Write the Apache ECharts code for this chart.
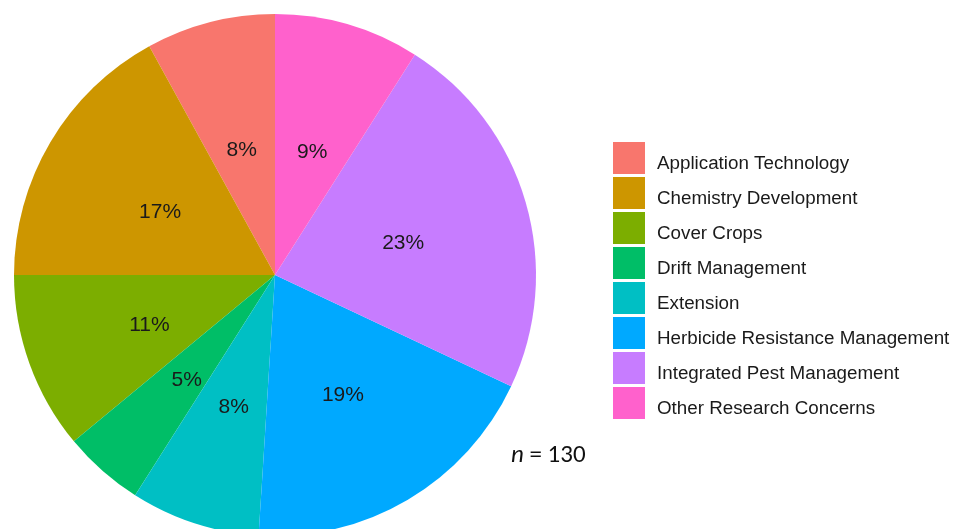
<!DOCTYPE html>
<html lang="en">
<head>
    <meta charset="UTF-8">
    <title>Research topics pie</title>
    <script src="https://cdn.jsdelivr.net/npm/echarts@6/dist/echarts.min.js"></script>
    <style>
        * { margin: 0; padding: 0; }
        body { background: #fff; }
        #paint { width: 954px; height: 529px; }
    </style>
</head>
<body>
    <div id="paint"></div>
    <script>
        // categories and shares (percent of n = 130)
        var categories = ['Application Technology', 'Chemistry Development', 'Cover Crops',
            'Drift Management', 'Extension', 'Herbicide Resistance Management',
            'Integrated Pest Management', 'Other Research Concerns'];
        var shares = [8, 17, 11, 5, 8, 19, 23, 9];
        var colors = ['#F8766D', '#CD9600', '#7CAE00', '#00BE67', '#00BFC4', '#00A9FF', '#C77CFF', '#FF61CC'];
        var sampleSize = 130;

        var data = [];
        for (var i = 0; i < categories.length; i++) {
            data.push({ name: categories[i], value: shares[i], itemStyle: { color: colors[i] } });
        }

        var mychart = echarts.init(document.getElementById('paint'));
        mychart.setOption({
            animation: false,
            legend: {
                orient: 'vertical',
                left: 613,
                top: 142,
                padding: 0,
                icon: 'rect',
                itemWidth: 32,
                itemHeight: 32,
                itemGap: 3,
                data: categories,
                formatter: '{a|{name}}',
                textStyle: {
                    fontFamily: 'Liberation Sans, Arial, sans-serif',
                    fontSize: 18.8,
                    color: '#1a1a1a',
                    rich: {
                        a: {
                            fontFamily: 'Liberation Sans, Arial, sans-serif',
                            fontSize: 18.8,
                            color: '#1a1a1a',
                            padding: [11, 0, 0, 7]
                        }
                    }
                }
            },
            graphic: [{
                type: 'text',
                left: 511,
                top: 443,
                style: {
                    rich: {
                        i: { fontStyle: 'italic', fontSize: 25, fontFamily: 'Carlito, Liberation Sans, sans-serif', fill: '#111' },
                        r: { fontSize: 25, fontFamily: 'Carlito, Liberation Sans, sans-serif', fill: '#111' }
                    },
                    text: '{i|n}{r| = ' + sampleSize + '}'
                }
            }],
            series: [{
                type: 'pie',
                center: [275, 275],
                radius: 261,
                startAngle: 90,
                clockwise: false,
                silent: true,
                label: {
                    position: 'inside',
                    fontFamily: 'Liberation Sans, Arial, sans-serif',
                    fontSize: 21,
                    color: '#1a1a1a',
                    offset: [0, 5],
                    formatter: function (p) { return Math.round(p.value) + '%'; }
                },
                labelLine: { show: false },
                itemStyle: { borderWidth: 0 },
                data: data
            }]
        });
    </script>
</body>
</html>
